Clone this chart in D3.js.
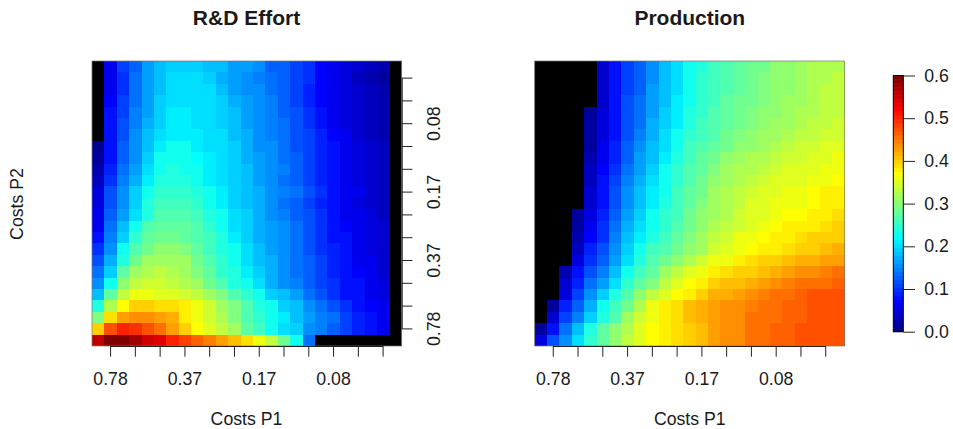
<!DOCTYPE html>
<html><head><meta charset="utf-8">
<script src="https://cdn.jsdelivr.net/npm/d3@7/dist/d3.min.js"></script>
<style>html,body{margin:0;padding:0;background:#fff}svg{display:block}text{font-family:"Liberation Sans",Arial,sans-serif;fill:#1a1a1a}</style>
</head><body><svg id="c" width="953" height="429"></svg>
<script>
const N = null;
const titles = ["R&D Effort", "Production"];
const xLabel = "Costs P1", yLabel = "Costs P2";
const tickLabels = ["0.78", "0.37", "0.17", "0.08"];
const colorTicks = [0, 0.1, 0.2, 0.3, 0.4, 0.5, 0.6];
const rdEffort = [
[N,.06,.105,.13,.16,.18,.195,.195,.195,.185,.18,.165,.16,.15,.13,.125,.105,.10,.07,.06,.05,.04,.03,.02,N],
[N,.06,.10,.135,.16,.18,.205,.205,.20,.19,.175,.16,.155,.145,.135,.125,.11,.10,.07,.06,.05,.03,.02,.01,N],
[N,.065,.10,.135,.16,.185,.205,.205,.20,.20,.185,.165,.155,.15,.14,.125,.11,.09,.07,.06,.05,.04,.03,.02,N],
[N,.07,.11,.14,.165,.19,.205,.205,.205,.20,.195,.175,.16,.15,.145,.13,.11,.09,.07,.06,.05,.04,.03,.02,N],
[N,.075,.11,.145,.165,.195,.21,.21,.205,.20,.195,.185,.165,.15,.145,.13,.115,.095,.08,.065,.055,.04,.03,.025,N],
[N,.075,.115,.145,.175,.195,.21,.21,.205,.20,.195,.185,.165,.15,.145,.135,.115,.10,.08,.065,.055,.045,.035,.025,N],
[N,.075,.115,.15,.185,.205,.215,.215,.21,.205,.20,.185,.17,.155,.145,.135,.12,.105,.085,.07,.06,.045,.035,.025,N],
[.005,.075,.125,.155,.185,.21,.225,.225,.215,.205,.20,.19,.17,.155,.15,.14,.12,.105,.085,.075,.06,.05,.04,.03,N],
[.01,.08,.125,.155,.19,.225,.225,.225,.22,.21,.20,.19,.175,.16,.15,.14,.125,.11,.09,.075,.065,.05,.04,.03,N],
[.02,.09,.14,.165,.20,.23,.235,.23,.225,.215,.205,.195,.18,.16,.155,.145,.125,.11,.09,.075,.065,.055,.04,.03,N],
[.03,.095,.145,.175,.215,.235,.24,.235,.23,.215,.205,.195,.18,.165,.155,.14,.125,.11,.09,.075,.065,.055,.045,.035,N],
[.05,.115,.155,.195,.225,.25,.25,.25,.235,.225,.215,.195,.185,.17,.155,.145,.135,.115,.095,.08,.065,.06,.045,.035,N],
[.055,.115,.155,.195,.235,.255,.26,.255,.245,.23,.215,.195,.185,.17,.155,.14,.125,.11,.09,.075,.065,.055,.045,.03,N],
[.06,.125,.165,.205,.24,.265,.265,.265,.26,.24,.225,.20,.19,.17,.155,.145,.13,.115,.095,.075,.065,.06,.05,.035,N],
[.065,.135,.18,.23,.265,.275,.275,.275,.27,.25,.23,.20,.19,.175,.165,.15,.135,.115,.095,.08,.07,.06,.05,.04,N],
[.075,.145,.19,.25,.275,.285,.29,.275,.27,.255,.235,.215,.195,.175,.165,.15,.135,.115,.10,.08,.075,.065,.055,.04,N],
[.095,.155,.225,.27,.285,.30,.30,.295,.275,.26,.24,.225,.20,.185,.165,.15,.14,.12,.10,.085,.075,.065,.055,.045,N],
[.115,.175,.24,.285,.31,.31,.31,.31,.285,.27,.25,.23,.205,.185,.17,.155,.14,.125,.105,.09,.075,.065,.06,.045,N],
[.135,.195,.275,.31,.325,.33,.32,.31,.295,.275,.25,.24,.215,.195,.17,.15,.14,.125,.11,.09,.08,.07,.06,.045,N],
[.15,.23,.30,.335,.345,.345,.335,.325,.31,.285,.265,.24,.225,.205,.175,.155,.145,.13,.11,.095,.08,.075,.065,.05,N],
[.185,.275,.335,.36,.365,.355,.35,.345,.33,.31,.295,.265,.245,.225,.195,.18,.16,.135,.12,.095,.08,.075,.065,.055,N],
[.235,.325,.37,.395,.395,.39,.39,.38,.36,.34,.315,.295,.265,.235,.225,.195,.18,.155,.135,.115,.095,.08,.07,.06,N],
[.295,.385,.425,.435,.435,.425,.415,.38,.365,.345,.325,.295,.27,.25,.23,.21,.185,.165,.145,.135,.11,.09,.075,.065,N],
[.395,.47,.505,.495,.475,.455,.43,.40,.37,.35,.33,.31,.275,.255,.23,.205,.19,.155,.145,.13,.11,.085,.075,.06,N],
[.555,.595,.595,.58,.55,.535,.505,.485,.465,.445,.425,.405,.39,.365,.33,.29,.225,.14,N,N,N,N,N,N,N]
];
const production = [
[N,N,N,N,N,.045,.075,.105,.125,.155,.185,.205,.225,.235,.255,.265,.275,.285,.29,.30,.305,.31,.32,.32,.32],
[N,N,N,N,N,.045,.075,.11,.13,.155,.185,.205,.225,.245,.26,.27,.275,.285,.295,.30,.305,.315,.32,.325,.335],
[N,N,N,N,N,.045,.075,.11,.13,.16,.185,.205,.225,.245,.26,.27,.275,.285,.295,.30,.305,.315,.32,.33,.335],
[N,N,N,N,N,.045,.075,.115,.135,.16,.185,.21,.225,.245,.26,.275,.285,.29,.295,.305,.31,.315,.325,.33,.335],
[N,N,N,N,.01,.05,.075,.115,.14,.165,.195,.215,.235,.25,.265,.275,.285,.295,.30,.305,.315,.32,.325,.335,.335],
[N,N,N,N,.01,.05,.075,.115,.14,.17,.195,.215,.24,.255,.265,.275,.285,.295,.305,.31,.315,.325,.33,.335,.345],
[N,N,N,N,.015,.055,.08,.12,.145,.175,.20,.225,.25,.26,.27,.285,.295,.30,.31,.315,.32,.33,.335,.345,.345],
[N,N,N,N,.015,.06,.085,.125,.155,.18,.205,.23,.255,.265,.28,.29,.30,.305,.315,.325,.335,.34,.345,.35,.355],
[N,N,N,N,.02,.065,.09,.13,.16,.185,.215,.24,.26,.275,.285,.30,.31,.32,.325,.33,.34,.345,.35,.35,.36],
[N,N,N,N,.03,.07,.10,.14,.165,.195,.225,.245,.265,.28,.295,.31,.32,.325,.335,.345,.35,.35,.355,.36,.365],
[N,N,N,N,.035,.075,.11,.145,.175,.20,.23,.25,.27,.285,.30,.315,.325,.335,.345,.35,.35,.355,.36,.365,.37],
[N,N,N,N,.045,.08,.115,.155,.185,.21,.23,.255,.275,.29,.31,.32,.33,.345,.35,.355,.36,.365,.37,.375,.375],
[N,N,N,N,.045,.08,.115,.155,.185,.215,.235,.255,.275,.295,.31,.325,.335,.35,.355,.36,.36,.365,.37,.375,.375],
[N,N,N,.01,.055,.09,.125,.165,.195,.225,.245,.26,.285,.30,.315,.325,.34,.35,.355,.365,.37,.37,.375,.38,.385],
[N,N,N,.015,.06,.095,.135,.17,.20,.23,.25,.265,.29,.305,.32,.33,.345,.355,.36,.37,.375,.375,.38,.39,.395],
[N,N,N,.02,.07,.10,.145,.18,.21,.24,.255,.275,.295,.31,.33,.345,.36,.365,.37,.375,.38,.39,.395,.40,.40],
[N,N,N,.03,.085,.115,.155,.19,.225,.255,.27,.285,.30,.315,.34,.355,.365,.37,.375,.38,.39,.395,.40,.41,.415],
[N,N,N,.05,.095,.13,.165,.205,.24,.265,.285,.30,.325,.345,.36,.365,.38,.385,.395,.40,.405,.415,.42,.425,.43],
[N,N,.02,.075,.115,.145,.185,.225,.26,.28,.31,.33,.355,.365,.375,.385,.395,.40,.41,.42,.43,.435,.44,.445,.45],
[N,N,.045,.085,.135,.165,.205,.245,.275,.295,.33,.355,.37,.375,.395,.405,.41,.42,.43,.435,.445,.45,.455,.455,.46],
[N,N,.055,.11,.155,.195,.235,.265,.30,.335,.355,.37,.38,.40,.415,.42,.43,.435,.445,.45,.455,.46,.47,.47,.47],
[N,.01,.085,.125,.17,.225,.255,.29,.325,.36,.375,.39,.405,.415,.43,.435,.44,.445,.455,.455,.465,.465,.475,.475,.475],
[N,.04,.11,.145,.19,.24,.27,.315,.34,.365,.375,.39,.405,.415,.43,.435,.44,.45,.455,.455,.465,.465,.475,.475,.475],
[.01,.075,.135,.185,.235,.275,.30,.325,.35,.37,.375,.39,.40,.41,.425,.435,.44,.45,.455,.46,.465,.47,.475,.475,.475],
[.055,.115,.155,.20,.245,.28,.305,.33,.35,.37,.375,.39,.40,.41,.425,.435,.44,.45,.455,.46,.465,.47,.475,.475,.475]
];

const paletteStops = ["#00008F", "#0000FF", "#00FFFF", "#FFFF00", "#FF0000", "#800000"];
const paletteIdx = [0, 7, 23, 39, 55, 63];
const idxColor = d3.scaleLinear().domain(paletteIdx).range(paletteStops).interpolate(d3.interpolateRgb);
const palette = d3.range(64).map(i => idxColor(i));
const color = d3.scaleQuantize().domain([0, 0.6]).range(palette);

const svg = d3.select("#c");
const plotTop = 61, plotBottom = 346;
const panels = [
  {data: rdEffort, title: titles[0], x0: 92, x1: 401.7, side: true, titleX: 246.5},
  {data: production, title: titles[1], x0: 534.7, x1: 844.3, side: false, titleX: 689.8}
];
const font = 17.7;
const textFill = "#1a1a1a";

panels.forEach(p => {
  const idx = d3.range(25);
  const x = d3.scaleBand().domain(idx).range([p.x0, p.x1]);
  const y = d3.scaleBand().domain(idx).range([plotTop, plotBottom]);
  const g = svg.append("g");
  g.append("rect").attr("x", p.x0).attr("y", plotTop).attr("width", p.x1 - p.x0).attr("height", plotBottom - plotTop).attr("fill", "#000");
  p.data.forEach((row, r) => row.forEach((v, c) => {
    if (v === null) return;
    g.append("rect").attr("x", x(c)).attr("y", y(r)).attr("width", x.bandwidth() + 0.3).attr("height", y.bandwidth() + 0.3)
      .attr("fill", color(v)).attr("shape-rendering", "crispEdges");
  }));
  g.append("rect").attr("x", p.x0).attr("y", plotTop).attr("width", p.x1 - p.x0).attr("height", plotBottom - plotTop)
    .attr("fill", "none").attr("stroke", "#777").attr("stroke-width", 0.7);

  const xTicks = idx.filter(i => i % 2 === 1);
  const lab = i => i % 6 === 1 ? tickLabels[(i - 1) / 6] : "";
  const ax = g.append("g").attr("transform", `translate(0,${plotBottom})`)
    .call(d3.axisBottom(x).tickValues(xTicks).tickSize(10.7).tickPadding(16.2).tickSizeOuter(0).tickFormat(lab));
  ax.select(".domain").attr("d", `M${x(1) + x.bandwidth() / 2},0.5H${x(23) + x.bandwidth() / 2}`).attr("stroke", "#222");
  ax.selectAll("line").attr("stroke", "#222");
  ax.selectAll("text").attr("font-size", font).style("font-family", '"Liberation Sans"').attr("fill", textFill);

  if (p.side) {
    const yTicks = idx.filter(i => i % 2 === 1);
    const yLab = i => i % 6 === 5 ? tickLabels[(23 - i) / 6] : "";
    const ay = g.append("g").attr("transform", `translate(${p.x1},0)`)
      .call(d3.axisRight(y).tickValues(yTicks).tickSize(10.7).tickSizeOuter(0).tickFormat(yLab));
    ay.select(".domain").attr("d", `M0.5,${y(1) + y.bandwidth() / 2}V${y(23) + y.bandwidth() / 2}`).attr("stroke", "#222");
    ay.selectAll("line").attr("stroke", "#222");
    ay.selectAll("text").attr("font-size", font).style("font-family", '"Liberation Sans"').attr("fill", textFill)
      .attr("x", null).attr("dy", null).attr("text-anchor", "middle")
      .attr("transform", "translate(38.5,0) rotate(-90)");
  }
  svg.append("text").attr("x", p.titleX).attr("y", 24.5).attr("text-anchor", "middle")
    .attr("font-weight", "bold").attr("font-size", 21).text(p.title);
  svg.append("text").attr("x", p.titleX).attr("y", 425).attr("text-anchor", "middle")
    .attr("font-size", font).text(xLabel);
});

svg.append("text").attr("transform", "translate(22.8,204) rotate(-90)").attr("text-anchor", "middle")
  .attr("font-size", font).text(yLabel);

// colour bar
const bar = {x0: 893.3, x1: 903.3, y0: 331.7, y1: 75.5};
const cy = d3.scaleLinear().domain([0, 0.6]).range([bar.y0, bar.y1]);
const cb = svg.append("g");
palette.forEach((col, i) => {
  const lo = cy((i + 1) * 0.6 / 64), hi = cy(i * 0.6 / 64);
  cb.append("rect").attr("x", bar.x0).attr("width", bar.x1 - bar.x0).attr("y", lo).attr("height", hi - lo + 0.4).attr("fill", col);
});
cb.append("rect").attr("x", bar.x0).attr("y", bar.y1).attr("width", bar.x1 - bar.x0).attr("height", bar.y0 - bar.y1)
  .attr("fill", "none").attr("stroke", "#000").attr("stroke-width", 1);
const ca = cb.append("g").attr("transform", `translate(${bar.x1},0)`)
  .call(d3.axisRight(cy).tickValues(colorTicks).tickSize(11.7).tickPadding(9.2).tickSizeOuter(0).tickFormat(d3.format(".1f")));
ca.select(".domain").remove();
ca.selectAll("line").attr("stroke", "#222");
ca.selectAll("text").attr("font-size", font).style("font-family", '"Liberation Sans"').attr("fill", textFill);
</script></body></html>
